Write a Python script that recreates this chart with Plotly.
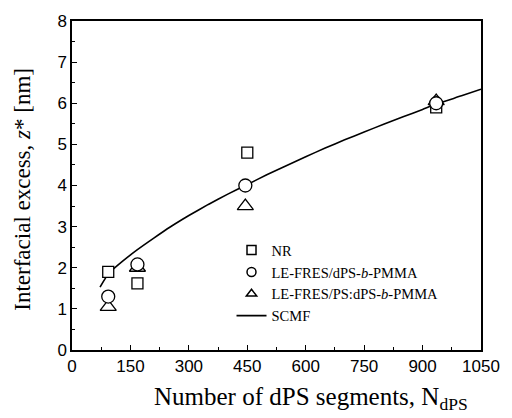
import plotly.graph_objects as go

# Measured interfacial excess z* [nm] versus number of dPS segments
n_nr = [93, 168, 450, 935]
z_nr = [1.9, 1.62, 4.8, 5.9]

n_dps = [93, 168, 445, 935]
z_dps = [1.3, 2.08, 4.0, 6.0]

n_ps = [93, 168, 445, 935]
z_ps = [1.05, 2.0, 3.5, 6.05]

# SCMF prediction
n_scmf = [72, 94, 130, 168, 210, 252, 300, 350, 400, 445, 500, 550, 600, 650,
          700, 750, 800, 850, 900, 935, 1000, 1050]
z_scmf = [1.53, 1.86, 2.16, 2.44, 2.72, 2.99, 3.27, 3.54, 3.79, 4.0, 4.26, 4.48,
          4.70, 4.91, 5.11, 5.30, 5.49, 5.67, 5.85, 5.98, 6.18, 6.34]

serif = "Liberation Serif"
sans = "Liberation Sans"

fig = go.Figure()

fig.add_trace(go.Scatter(
    x=n_scmf, y=z_scmf, mode="lines", line=dict(color="black", width=1.6, shape="spline", smoothing=0.5),
    showlegend=False, hoverinfo="skip"))

open_marker = dict(color="white", line=dict(color="black", width=1.3))
fig.add_trace(go.Scatter(x=n_nr, y=z_nr, mode="markers", showlegend=False,
                         marker=dict(symbol="square", size=11, **open_marker)))
fig.add_trace(go.Scatter(x=n_ps, y=z_ps, mode="markers", showlegend=False,
                         marker=dict(symbol="triangle-up", size=14, **open_marker)))
fig.add_trace(go.Scatter(x=n_dps, y=z_dps, mode="markers", showlegend=False,
                         marker=dict(symbol="circle", size=13, **open_marker)))

# Legend entries with smaller symbols
legend_items = [
    ("NR", "square"),
    ("LE-FRES/dPS-<i>b</i>-PMMA", "circle"),
    ("LE-FRES/PS:dPS-<i>b</i>-PMMA", "triangle-up"),
]
for name, sym in legend_items:
    fig.add_trace(go.Scatter(x=[None], y=[None], mode="markers", name=name,
                             marker=dict(symbol=sym, size=9, color="white",
                                         line=dict(color="black", width=1.5))))
fig.add_trace(go.Scatter(x=[None], y=[None], mode="lines", name="SCMF",
                         line=dict(color="black", width=1.6)))

axis_common = dict(
    showline=True, linecolor="black", linewidth=1.5, mirror=True,
    ticks="inside", ticklen=5, tickwidth=1.2, tickcolor="black",
    showgrid=False, zeroline=False,
    tickfont=dict(family=sans, size=17, color="black"),
)

fig.update_xaxes(range=[0, 1050], tick0=0, dtick=150,
                 minor=dict(dtick=75, ticks="inside", ticklen=3, tickwidth=1.2, tickcolor="black"),
                 **axis_common)
fig.update_yaxes(range=[0, 8], tick0=0, dtick=1,
                 minor=dict(dtick=0.5, ticks="inside", ticklen=3, tickwidth=1.2, tickcolor="black"),
                 **axis_common)

fig.add_annotation(text="Number of dPS segments, N<sub>dPS</sub>", xref="paper", yref="paper",
                   x=0.585, y=-0.148, xanchor="center", yanchor="middle", showarrow=False,
                   font=dict(family=serif, size=25, color="black"))
fig.add_annotation(text="Interfacial excess, <i>z</i>* [nm]", xref="paper", yref="paper",
                   x=-0.12, y=0.49, xanchor="center", yanchor="middle", textangle=-90,
                   showarrow=False, font=dict(family=serif, size=23, color="black"))

fig.update_layout(
    width=512, height=418,
    margin=dict(l=72, r=23, t=20, b=68),
    plot_bgcolor="white", paper_bgcolor="white",
    legend=dict(x=0.39, y=0.352, xanchor="left", yanchor="top",
                bgcolor="rgba(0,0,0,0)", font=dict(family=serif, size=14.5, color="black"),
                tracegroupgap=0, itemwidth=30),
)

fig.write_html("out.html")
